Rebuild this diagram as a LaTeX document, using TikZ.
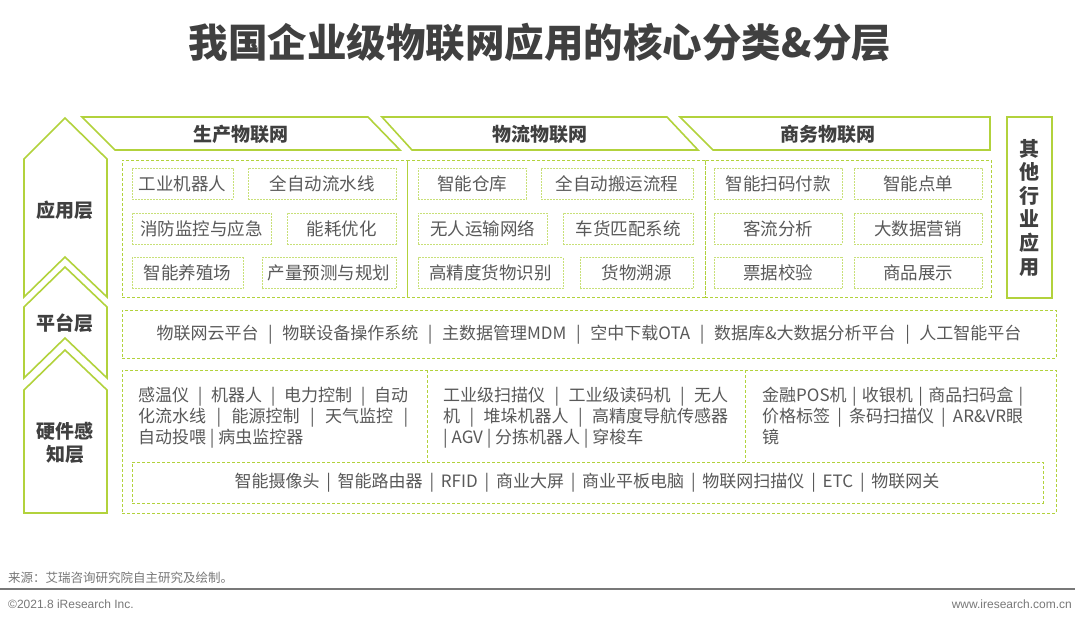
\documentclass[tikz,border=0pt]{standalone}
\usepackage{fontspec}
\setmainfont{Noto Sans CJK SC}
\newfontfamily\footlatin{Liberation Sans}
\usepackage{xcolor}
\usepackage{tikz}
\definecolor{iotgreen}{RGB}{178,210,60}
\definecolor{iotlight}{RGB}{200,224,120}
\definecolor{iottext}{RGB}{89,89,89}
\definecolor{iotdark}{RGB}{64,64,64}
\definecolor{iotfoot}{RGB}{120,120,120}
\tikzset{
  iotshape/.style={draw=iotgreen, line width=1.6pt, fill=white, line join=miter},
  iothead/.style={font=\fontsize{19}{19}\selectfont\bfseries, text=iotdark, inner sep=0pt},
  iotlayer/.style={font=\fontsize{19}{23}\selectfont\bfseries, text=iotdark, align=center, inner sep=0pt},
  iotbox/.style={draw=iotgreen, line width=1pt, dash pattern=on 3pt off 2pt, inner sep=0pt},
  iotitem/.style={
    draw=iotlight, line width=1pt, dash pattern=on 2pt off 1pt,
    minimum height=31pt, inner sep=0pt,
    font=\fontsize{17.5}{17.5}\selectfont, text=iottext
  },
  iotline/.style={font=\fontsize{17}{21}\selectfont, text=iottext, align=left, inner sep=0pt},
  iotfootnote/.style={font=\fontsize{12.5}{12.5}\selectfont, text=iotfoot, inner sep=0pt},
}

\begin{document}
\begin{tikzpicture}[x=1pt, y=-1pt]
  \useasboundingbox (0,0) rectangle (1080,624);
  \fill[white] (0,0) rectangle (1080,624);

  % title
  \node (title) [font=\fontsize{39.5}{39.5}\selectfont\bfseries, text=iotdark] at (540,42) {我国企业级物联网应用的核心分类\&分层};

  % layer arrows on the left
  \draw[iotshape] (24,159) -- (65,118) -- (107,159) -- (107,297) -- (65,257) -- (24,297) -- cycle;
  \draw[iotshape] (24,307) -- (65,267) -- (107,307) -- (107,378) -- (65,338) -- (24,378) -- cycle;
  \draw[iotshape] (24,390) -- (65,350) -- (107,390) -- (107,513) -- (24,513) -- cycle;
  \node (lapp) [iotlayer] at (65,210) {应用层};
  \node (lplat) [iotlayer] at (65,323) {平台层};
  \node (lhw) [iotlayer] at (65,443) {硬件感\\知层};

  % headers
  \draw[iotshape] (82,117) -- (368,117) -- (400,150) -- (115,150) -- cycle;
  \draw[iotshape] (382,117) -- (667,117) -- (698,150) -- (412,150) -- cycle;
  \draw[iotshape] (680,117) -- (990,117) -- (990,150) -- (713,150) -- cycle;
  \node (hprod) [iothead] at (241,134) {生产物联网};
  \node (hlog) [iothead] at (540,134) {物流物联网};
  \node (hbiz) [iothead] at (828,134) {商务物联网};

  % other industries
  \node (other) [iotshape, minimum width=45pt, minimum height=181pt, inner sep=0pt,
    font=\fontsize{20}{23.6}\selectfont\bfseries, text=iotdark, align=center] at (1029.5,207.5)
    {其\\他\\行\\业\\应\\用};

  % application layer
  \node (appA) [iotbox, minimum width=285pt, minimum height=137pt] at (264.5,228.5) {};
  \node (appB) [iotbox, minimum width=298pt, minimum height=137pt] at (556,228.5) {};
  \node (appC) [iotbox, minimum width=286pt, minimum height=137pt] at (848,228.5) {};

  \node (a1) [iotitem, minimum width=101pt] at (182.5,183.5) {工业机器人};
  \node (a2) [iotitem, minimum width=148pt] at (322,183.5) {全自动流水线};
  \node (a3) [iotitem, minimum width=139pt] at (201.5,228.5) {消防监控与应急};
  \node (a4) [iotitem, minimum width=109pt] at (341.5,228.5) {能耗优化};
  \node (a5) [iotitem, minimum width=111pt] at (187.5,273) {智能养殖场};
  \node (a6) [iotitem, minimum width=134pt] at (329,273) {产量预测与规划};

  \node (b1) [iotitem, minimum width=108pt] at (472,183.5) {智能仓库};
  \node (b2) [iotitem, minimum width=152pt] at (617,183.5) {全自动搬运流程};
  \node (b3) [iotitem, minimum width=129pt] at (482.5,228.5) {无人运输网络};
  \node (b4) [iotitem, minimum width=130pt] at (628,228.5) {车货匹配系统};
  \node (b5) [iotitem, minimum width=145pt] at (490.5,273) {高精度货物识别};
  \node (b6) [iotitem, minimum width=113pt] at (636.5,273) {货物溯源};

  \node (c1) [iotitem, minimum width=128pt] at (778,183.5) {智能扫码付款};
  \node (c2) [iotitem, minimum width=128pt] at (918,183.5) {智能点单};
  \node (c3) [iotitem, minimum width=128pt] at (778,228.5) {客流分析};
  \node (c4) [iotitem, minimum width=128pt] at (918,228.5) {大数据营销};
  \node (c5) [iotitem, minimum width=128pt] at (778,273) {票据校验};
  \node (c6) [iotitem, minimum width=128pt] at (918,273) {商品展示};

  % platform layer
  \node (plat) [iotbox, minimum width=934pt, minimum height=48pt] at (589,334) {};
  \node (platT) [iotline] at (589,335)
    {\makebox[865pt][s]{物联网云平台 | 物联设备操作系统 | 主数据管理MDM | 空中下载OTA | 数据库\&大数据分析平台 | 人工智能平台}};

  % hardware layer
  \node (hw) [iotbox, minimum width=934pt, minimum height=143pt] at (589,441.5) {};
  \node (hwB) [iotbox, minimum width=911pt, minimum height=41pt] at (587.5,482.5) {};
  \coordinate (d1) at (427,370);
  \coordinate (d2) at (745,370);
  \draw[iotbox] (d1) -- (d1 |- hwB.north);
  \draw[iotbox] (d2) -- (d2 |- hwB.north);

  \node (hw1) [iotline, anchor=north west] at (138,387)
    {\makebox[270pt][s]{感温仪 | 机器人 | 电力控制 | 自动}\\
     \makebox[270pt][s]{化流水线 | 能源控制 | 天气监控 |}\\
     自动投喂 | 病虫监控器};
  \node (hw2) [iotline, anchor=north west] at (443,387)
    {\makebox[285pt][s]{工业级扫描仪 | 工业级读码机 | 无人}\\
     \makebox[285pt][s]{机 | 堆垛机器人 | 高精度导航传感器}\\
     | AGV | 分拣机器人 | 穿梭车};
  \node (hw3) [iotline, anchor=north west] at (762,387)
    {\makebox[261pt][s]{金融POS机 | 收银机 | 商品扫码盒 |}\\
     \makebox[261pt][s]{价格标签 | 条码扫描仪 | AR\&VR眼}\\
     镜};
  \node (hwT) [iotline] at (587,483)
    {\makebox[705pt][s]{智能摄像头 | 智能路由器 | RFID | 商业大屏 | 商业平板电脑 | 物联网扫描仪 | ETC | 物联网关}};

  % footer
  \node (src) [iotfootnote, anchor=west] at (8,578) {来源：艾瑞咨询研究院自主研究及绘制。};
  \draw[iotfoot, line width=1.5pt] (0,589) -- (1075,589);
  \node (copy) [iotfootnote, font=\footlatin\fontsize{12}{12}\selectfont, anchor=west] at (8,604) {©2021.8 iResearch Inc.};
  \node (web) [iotfootnote, font=\footlatin\fontsize{12}{12}\selectfont, anchor=east] at (1072,604) {www.iresearch.com.cn};
\end{tikzpicture}
\end{document}
